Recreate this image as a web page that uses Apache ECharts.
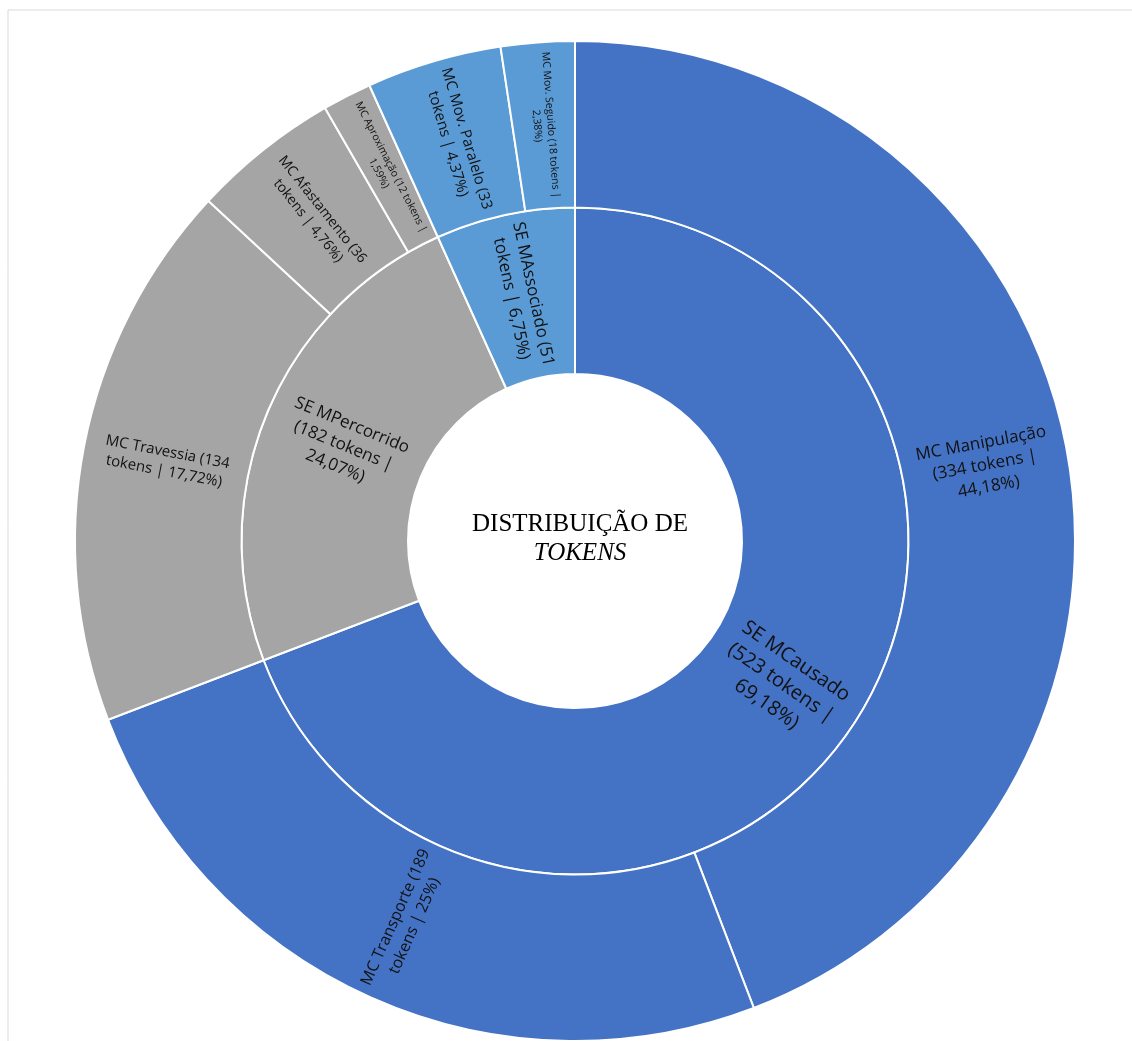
<!DOCTYPE html>
<html>
<head>
<meta charset="utf-8">
<script src="https://cdn.jsdelivr.net/npm/echarts@6/dist/echarts.min.js"></script>
<style>
html,body{margin:0;padding:0;background:#fff;}
#chart{width:1132px;height:1041px;}
</style>
</head>
<body>
<div id="chart"></div>
<script>
// ---- data ----
const innerNames = ['SE MCausado', 'SE MPercorrido', 'SE MAssociado'];
const innerValues = [523, 182, 51];
const innerLabels = [
  'SE MCausado\n(523 tokens |\n69,18%)',
  'SE MPercorrido\n(182 tokens |\n24,07%)',
  'SE MAssociado (51\ntokens | 6,75%)'
];
const outerNames = ['MC Manipulação', 'MC Transporte', 'MC Travessia', 'MC Afastamento', 'MC Aproximação', 'MC Mov. Paralelo', 'MC Mov. Seguido'];
const outerValues = [334, 189, 134, 36, 12, 33, 18];
const outerParent = [0, 0, 1, 1, 1, 2, 2];
const outerLabels = [
  'MC Manipulação\n(334 tokens |\n44,18%)',
  'MC Transporte (189\ntokens | 25%)',
  'MC Travessia (134\ntokens | 17,72%)',
  'MC Afastamento (36\ntokens | 4,76%)',
  'MC Aproximação (12 tokens |\n1,59%)',
  'MC Mov. Paralelo (33\ntokens | 4,37%)',
  'MC Mov. Seguido (18 tokens |\n2,38%)'
];
const centerTitle = 'DISTRIBUIÇÃO DE';
const centerTitle2 = 'TOKENS';

// ---- styles ----
const groupColors = ['#4472C4', '#A5A5A5', '#5B9BD5'];
const innerFont = [20, 17, 17];
const outerFont = [17, 16, 15, 14, 10.5, 15, 10.5];

const data = innerNames.map((n, i) => ({
  name: n,
  value: innerValues[i],
  itemStyle: { color: groupColors[i] },
  label: { formatter: innerLabels[i], fontSize: innerFont[i], lineHeight: innerFont[i] * 1.3 },
  children: outerNames.map((m, j) => ({ m, j })).filter(o => outerParent[o.j] === i).map(o => ({
    name: o.m,
    value: outerValues[o.j],
    itemStyle: { color: groupColors[i] },
    label: { formatter: outerLabels[o.j], fontSize: outerFont[o.j], lineHeight: outerFont[o.j] * 1.3 }
  }))
}));

const chart = echarts.init(document.getElementById('chart'));
chart.setOption({
  animation: false,
  graphic: [
    { type: 'line', shape: { x1: 8, y1: 10, x2: 1132, y2: 10 }, style: { stroke: '#d9d9d9', lineWidth: 1 } },
    { type: 'line', shape: { x1: 8, y1: 10, x2: 8, y2: 1041 }, style: { stroke: '#d9d9d9', lineWidth: 1 } },
    {
      type: 'text', x: 580, y: 510, z: 100,
      style: {
        text: centerTitle + '\n{i|' + centerTitle2 + '}',
        align: 'center',
        fill: '#000',
        font: '25px "Liberation Serif"',
        lineHeight: 29,
        rich: { i: { fontStyle: 'italic', fontSize: 25, fontFamily: 'Liberation Serif', lineHeight: 29, fill: '#000' } }
      }
    }
  ],
  series: [{
    type: 'sunburst',
    center: [575, 541],
    radius: [167, 500],
    startAngle: 90,
    sort: null,
    nodeClick: false,
    emphasis: { disabled: true },
    itemStyle: { borderColor: '#fff', borderWidth: 2 },
    label: {
      rotate: 'radial',
      color: '#111',
      fontFamily: 'Open Sans',
      align: 'center',
      minAngle: 0
    },
    data: data
  }]
});
</script>
</body>
</html>
